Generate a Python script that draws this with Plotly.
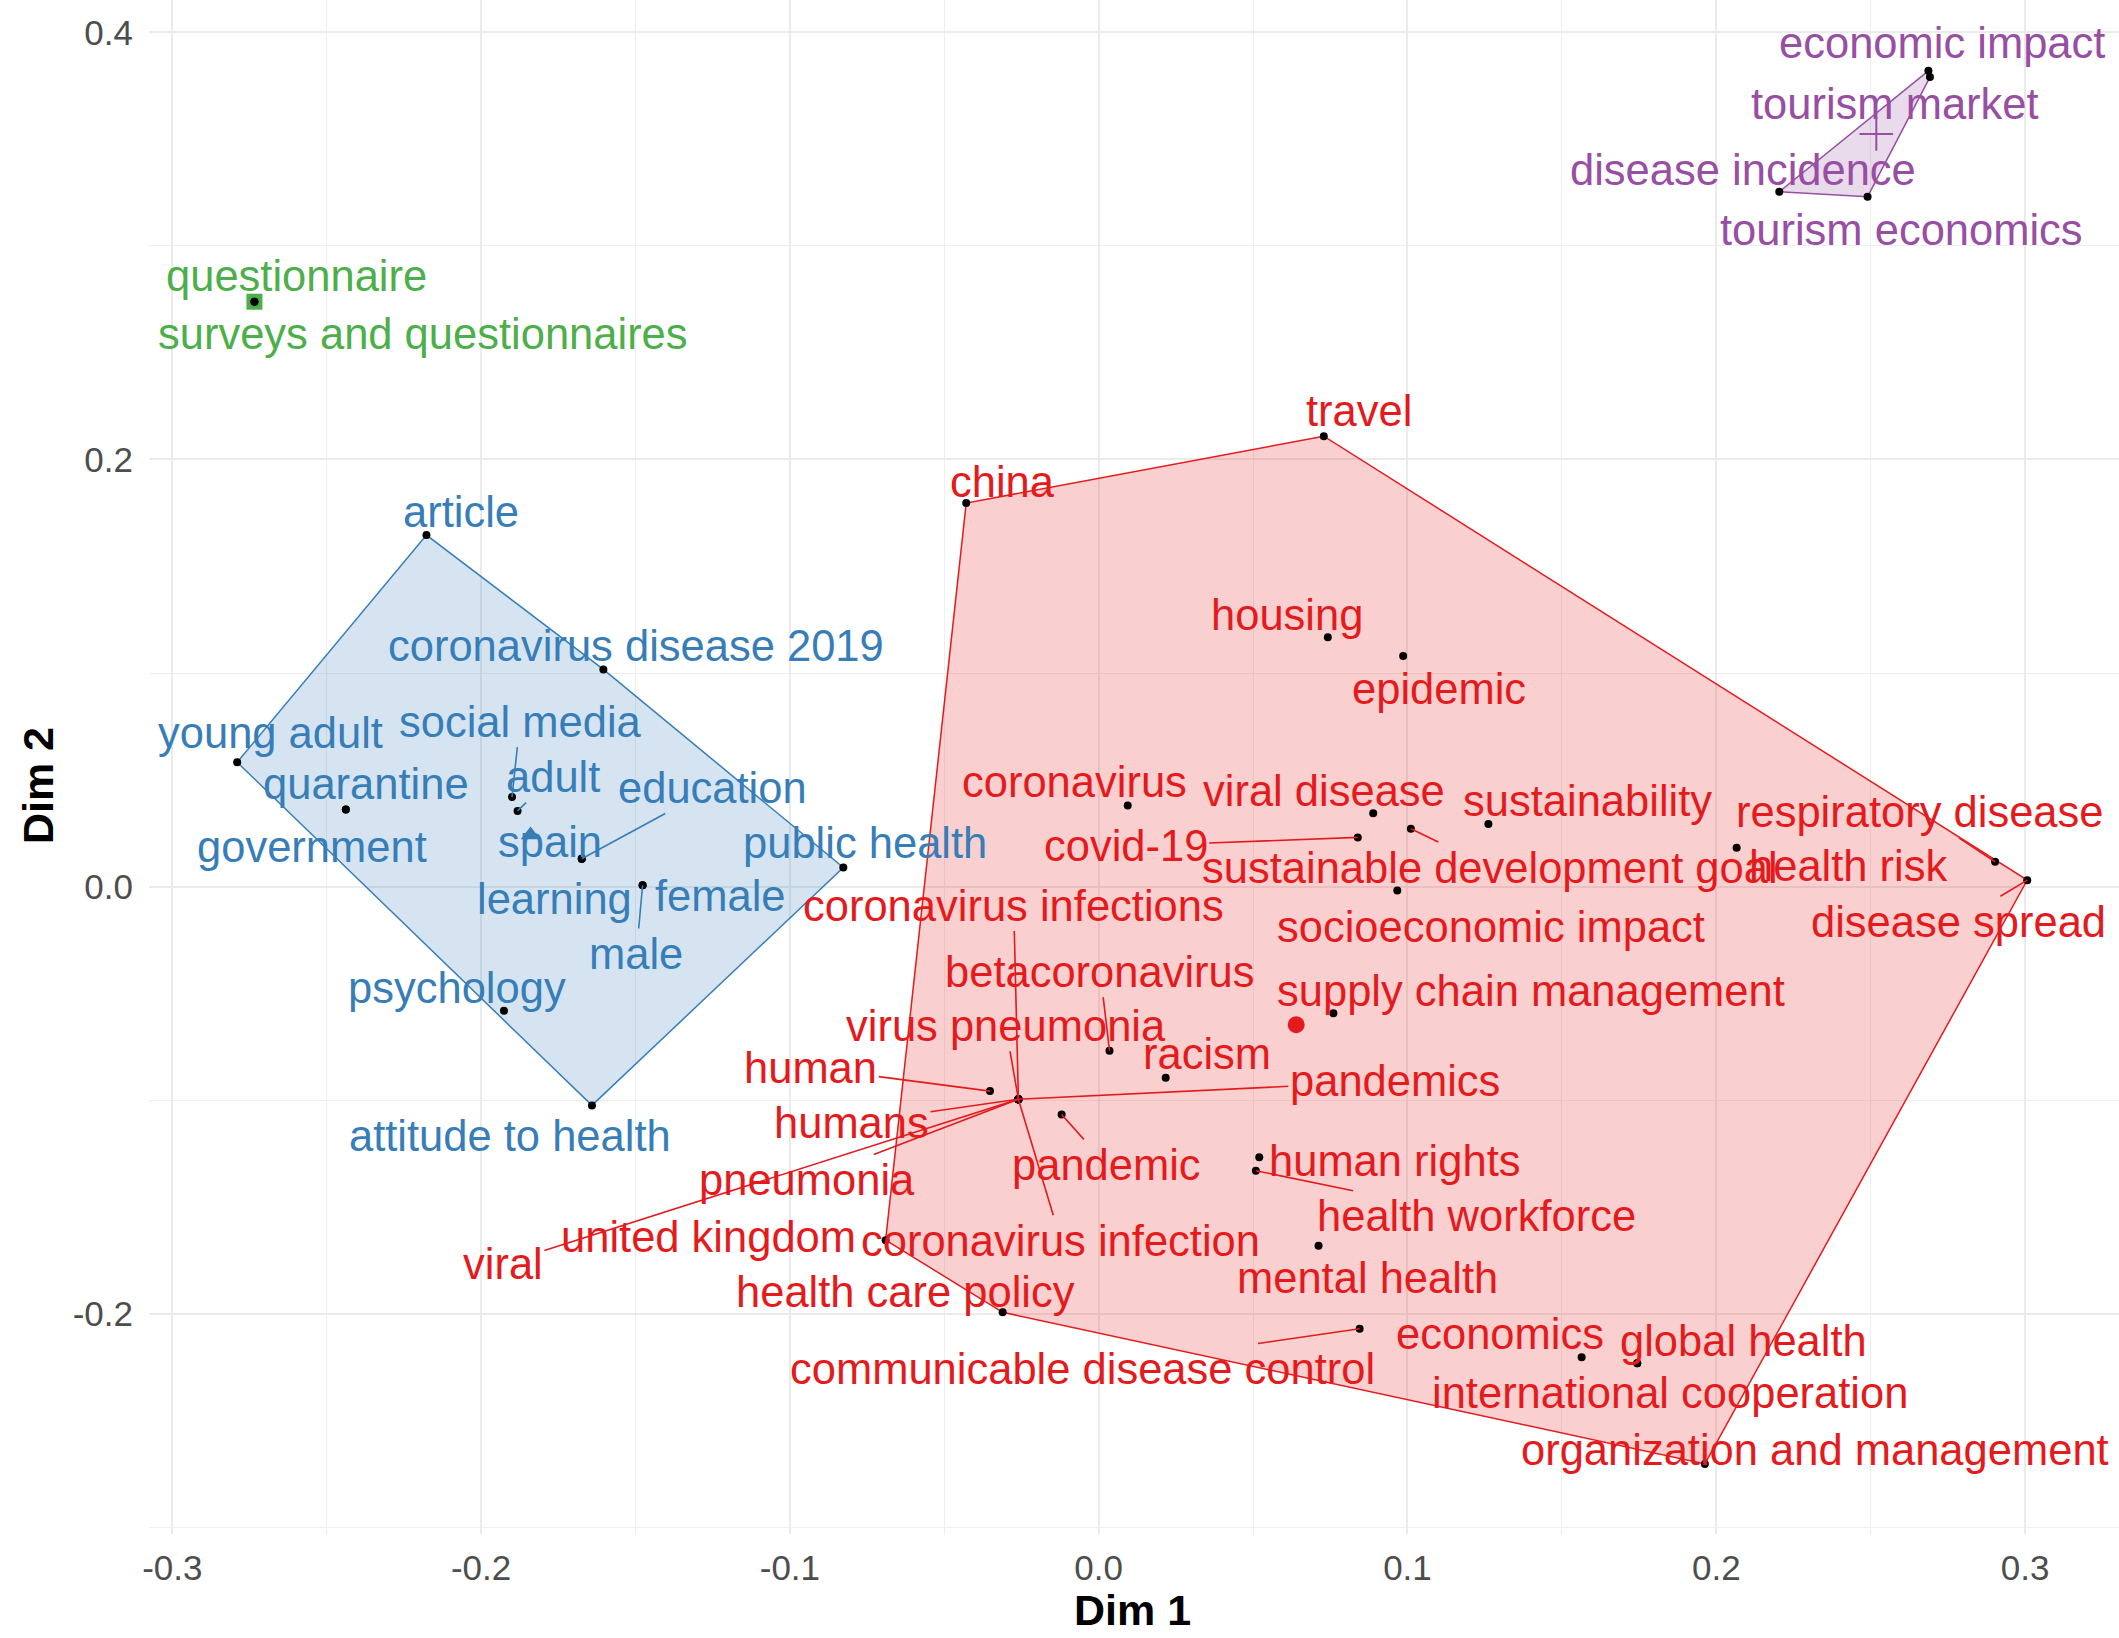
import plotly.graph_objects as go

# ---------------- data (Dim 1 / Dim 2 coordinates) ----------------
red_terms = ["travel", "china", "housing", "epidemic", "coronavirus", "viral disease",
             "sustainability", "covid-19", "sustainable development goal", "socioeconomic impact",
             "health risk", "respiratory disease", "disease spread", "supply chain management",
             "racism", "human", "coronavirus infections", "virus pneumonia", "pandemics", "humans",
             "pneumonia", "viral", "coronavirus infection", "betacoronavirus", "pandemic",
             "human rights", "health workforce", "mental health", "united kingdom",
             "health care policy", "communicable disease control", "economics", "global health",
             "international cooperation", "organization and management"]
red_x = [0.0729, -0.0429, 0.0742, 0.0986, 0.0094, 0.0889, 0.1262, 0.0839, 0.1011, 0.0967,
         0.2066, 0.2903, 0.3007, 0.0760, 0.0217, -0.0352, -0.0260, -0.0260, -0.0260, -0.0260,
         -0.0260, -0.0260, -0.0260, 0.0035, -0.0120, 0.0520, 0.0509, 0.0712, -0.0690,
         -0.0311, 0.0845, 0.1564, 0.1744, 0.1744, 0.1963]
red_y = [0.2109, 0.1796, 0.1168, 0.1080, 0.0380, 0.0343, 0.0293, 0.0230, 0.0271, -0.0019,
         0.0182, 0.0116, 0.0030, -0.0594, -0.0895, -0.0958, -0.0996, -0.0996, -0.0996, -0.0996,
         -0.0996, -0.0996, -0.0996, -0.0769, -0.1068, -0.1268, -0.1331, -0.1682, -0.1656,
         -0.1994, -0.2071, -0.2205, -0.2233, -0.2233, -0.2704]

blue_terms = ["article", "coronavirus disease 2019", "young adult", "quarantine", "government",
              "social media", "adult", "spain", "education", "learning", "female", "male",
              "public health", "psychology", "attitude to health"]
blue_x = [-0.2177, -0.1604, -0.2790, -0.2438, -0.2438, -0.1900, -0.1882, -0.1674, -0.1674,
          -0.1674, -0.1477, -0.1477, -0.0827, -0.1926, -0.1641]
blue_y = [0.1646, 0.1017, 0.0582, 0.0361, 0.0361, 0.0419, 0.0354, 0.0130, 0.0130, 0.0130,
          0.0006, 0.0006, 0.0089, -0.0582, -0.1025]

green_terms = ["questionnaire", "surveys and questionnaires"]
green_x = [-0.2734, -0.2734]
green_y = [0.2739, 0.2739]

purple_terms = ["economic impact", "tourism market", "disease incidence", "tourism economics"]
purple_x = [0.2687, 0.2692, 0.2204, 0.2490]
purple_y = [0.3820, 0.3791, 0.3254, 0.3231]

x_ticks = [-0.3, -0.2, -0.1, 0.0, 0.1, 0.2, 0.3]
x_tick_labels = ["-0.3", "-0.2", "-0.1", "0.0", "0.1", "0.2", "0.3"]
y_ticks = [-0.2, 0.0, 0.2, 0.4]
y_tick_labels = ["-0.2", "0.0", "0.2", "0.4"]

# ---------------- styling / layout ----------------
FONT = "Liberation Sans, Arial, sans-serif"
S = 2119 / 1568.0  # label offsets below are measured at 1568 px width

# label offsets (pixels, relative to the point) as repelled in the original
LABEL_OFFSET = {
    "questionnaire": (31, -19), "surveys and questionnaires": (125, 24),
    "economic impact": (10, -20.5), "tourism market": (-26, 20),
    "disease incidence": (-26.6, -15.8), "tourism economics": (25, 24.5),
    "article": (25.5, -17), "coronavirus disease 2019": (24.5, -17.3),
    "young adult": (24.5, -22), "quarantine": (15, -19), "government": (-25, 28),
    "social media": (6, -55.8), "adult": (26, -25), "spain": (-23.4, -12.4),
    "education": (96.6, -52.4), "learning": (-20.4, 29.6), "female": (57.4, 7.9),
    "male": (-4.6, 50.9), "public health": (16, -18), "psychology": (-35, -16.9),
    "attitude to health": (-61, 23),
    "travel": (26.4, -18.8), "china": (27.1, -15.3), "housing": (-30.5, -16.4),
    "epidemic": (26.7, 24.7), "coronavirus": (-39.5, -17), "viral disease": (-36.2, -16.8),
    "sustainability": (73.7, -16.7), "respiratory disease": (-55.3, -36.6),
    "covid-19": (-171.7, 6.4), "sustainable development goal": (58.9, 28.8),
    "health risk": (82.9, 13.8), "coronavirus infections": (-3.5, -143.3),
    "socioeconomic impact": (69, 27), "disease spread": (-51.2, 30.8),
    "betacoronavirus": (-6.9, -58.5), "supply chain management": (146.4, -16.8),
    "virus pneumonia": (-9.5, -54.3), "racism": (30.4, -17.4), "human": (-132.6, -17.3),
    "pandemics": (278.5, -13.3), "humans": (-123.5, 17.7), "pandemic": (33.4, 37.2),
    "human rights": (100.1, 2.6), "pneumonia": (-156.5, 59.7),
    "health workforce": (163.6, 33.7), "viral": (-381.5, 121.7),
    "united kingdom": (-131.4, -2.6), "coronavirus infection": (31.5, 104.7),
    "mental health": (36.4, 24.2), "health care policy": (-72, -15.1),
    "economics": (-60.4, -17.4), "global health": (78.5, -16.8),
    "communicable disease control": (-205.1, 29.8),
    "international cooperation": (24.5, 22.2), "organization and management": (81.4, -10.3),
}
SEGMENT = {"social media", "adult", "education", "male", "respiratory disease", "covid-19",
           "sustainable development goal", "coronavirus infections", "disease spread",
           "betacoronavirus", "virus pneumonia", "human", "pandemics", "humans", "pandemic",
           "pneumonia", "health workforce", "viral", "coronavirus infection",
           "communicable disease control"}

clusters = [
    dict(terms=red_terms, x=red_x, y=red_y, color="#E41A1C", fill="rgba(228,26,28,0.21)",
         symbol="circle", csize=17, cline=0),
    dict(terms=blue_terms, x=blue_x, y=blue_y, color="#377EB8", fill="rgba(55,126,184,0.21)",
         symbol="triangle-up", csize=17, cline=0),
    dict(terms=green_terms, x=green_x, y=green_y, color="#4DAF4A", fill="rgba(77,175,74,0.21)",
         symbol="square", csize=16, cline=0),
    dict(terms=purple_terms, x=purple_x, y=purple_y, color="#984EA3",
         fill="rgba(152,78,163,0.21)", symbol="cross-thin-open", csize=24, cline=2),
]


def convex_hull(pts):
    pts = sorted(set(pts))
    if len(pts) <= 2:
        return pts

    def cross(o, a, b):
        return (a[0] - o[0]) * (b[1] - o[1]) - (a[1] - o[1]) * (b[0] - o[0])

    lower, upper = [], []
    for p in pts:
        while len(lower) >= 2 and cross(lower[-2], lower[-1], p) <= 0:
            lower.pop()
        lower.append(p)
    for p in reversed(pts):
        while len(upper) >= 2 and cross(upper[-2], upper[-1], p) <= 0:
            upper.pop()
        upper.append(p)
    return lower[:-1] + upper[:-1]


fig = go.Figure()

# hulls
for c in clusters:
    hull = convex_hull(list(zip(c["x"], c["y"])))
    if len(hull) >= 3:
        hx = [p[0] for p in hull] + [hull[0][0]]
        hy = [p[1] for p in hull] + [hull[0][1]]
        fig.add_trace(go.Scatter(x=hx, y=hy, mode="lines", fill="toself",
                                 fillcolor=c["fill"], line=dict(color=c["color"], width=1.5),
                                 hoverinfo="skip"))

# centroids
for c in clusters:
    cx = sum(c["x"]) / len(c["x"])
    cy = sum(c["y"]) / len(c["y"])
    if c["cline"]:
        mk = dict(symbol=c["symbol"], size=c["csize"], color=c["color"],
                  line=dict(color=c["color"], width=c["cline"]))
    else:
        mk = dict(symbol=c["symbol"], size=c["csize"], color=c["color"])
    fig.add_trace(go.Scatter(x=[cx], y=[cy], mode="markers", marker=mk, hoverinfo="skip"))

# points
for c in clusters:
    fig.add_trace(go.Scatter(x=c["x"], y=c["y"], mode="markers",
                             marker=dict(color="black", size=8), text=c["terms"],
                             hoverinfo="text"))

# labels
annotations = []
for c in clusters:
    for t, x, y in zip(c["terms"], c["x"], c["y"]):
        dx, dy = LABEL_OFFSET[t]
        annotations.append(dict(
            x=x, y=y, xref="x", yref="y", text=t, showarrow=True,
            ax=dx * S, ay=dy * S, axref="pixel", ayref="pixel",
            arrowhead=0, arrowwidth=1.6, standoff=0,
            arrowcolor=c["color"] if t in SEGMENT else "rgba(0,0,0,0)",
            font=dict(family=FONT, size=43.5, color=c["color"]),
            xanchor="center", yanchor="middle"))

annotations.append(dict(x=0.4992, y=-0.0495, xref="paper", yref="paper", text="<b>Dim 1</b>",
                        showarrow=False, font=dict(family=FONT, size=43, color="black"),
                        xanchor="center", yanchor="middle"))
annotations.append(dict(x=-0.0563, y=0.4876, xref="paper", yref="paper", text="<b>Dim 2</b>",
                        showarrow=False, textangle=-90,
                        font=dict(family=FONT, size=43, color="black"),
                        xanchor="center", yanchor="middle"))

GRID = "#EBEBEB"
fig.update_layout(
    width=2119, height=1638, autosize=False,
    margin=dict(l=149, r=0, t=0, b=104, pad=0),
    plot_bgcolor="white", paper_bgcolor="white", showlegend=False,
    annotations=annotations,
    xaxis=dict(range=[-0.30755, 0.33042], tickmode="array", tickvals=x_ticks,
               ticktext=x_tick_labels, showgrid=True, gridcolor=GRID, gridwidth=2.2,
               zeroline=False, showline=False, ticks="", ticklabelstandoff=10,
               tickfont=dict(family=FONT, size=35, color="#4D4D4D"),
               minor=dict(tickmode="array", tickvals=[-0.25, -0.15, -0.05, 0.05, 0.15, 0.25],
                          showgrid=True, gridcolor="#EFEFEF", gridwidth=1.4, ticks="")),
    yaxis=dict(range=[-0.30323, 0.41519], tickmode="array", tickvals=y_ticks,
               ticktext=y_tick_labels, showgrid=True, gridcolor=GRID, gridwidth=2.2,
               zeroline=False, showline=False, ticks="", ticklabelstandoff=15,
               tickfont=dict(family=FONT, size=35, color="#4D4D4D"),
               minor=dict(tickmode="array", tickvals=[-0.3, -0.1, 0.1, 0.3],
                          showgrid=True, gridcolor="#EFEFEF", gridwidth=1.4, ticks="")),
)

fig.write_html("out.html", config={"displayModeBar": False},
               post_script="document.body.style.margin='0';document.body.style.overflow='hidden';")
